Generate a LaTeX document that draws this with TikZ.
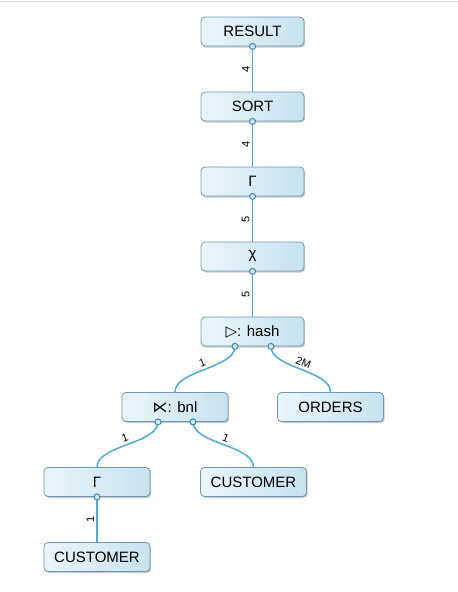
\documentclass[tikz,border=0pt]{standalone}
\usepackage{fontspec}
\setmainfont{Liberation Sans}
\newfontfamily\symf{DejaVu Sans}
\usetikzlibrary{shadows,calc}
\definecolor{edgeblue}{HTML}{4FA9DC}
\definecolor{boxborder}{HTML}{6E98B2}
\definecolor{boxleft}{HTML}{EAF5FB}
\definecolor{boxright}{HTML}{C8E2EE}
\definecolor{portfill}{HTML}{D2E8F5}
\definecolor{portdraw}{HTML}{3F86BD}
\begin{document}
\begin{tikzpicture}[x=1pt,y=1pt,
  opbox/.style={rectangle, rounded corners=4pt, draw=boxborder, line width=0.8pt,
    left color=boxleft, right color=boxright, minimum width=106pt, minimum height=29pt,
    inner sep=0pt, font=\fontsize{15}{18}\selectfont,
    drop shadow={shadow xshift=1.2pt, shadow yshift=-1.5pt, opacity=0.3, fill=black!70}},
  topbox/.style={opbox, minimum width=103pt},
  edge/.style={draw=edgeblue, line width=1.5pt},
  port/.style={circle, draw=portdraw, fill=portfill, line width=1pt, minimum size=6pt, inner sep=0pt},
  elabel/.style={font=\fontsize{11}{13}\selectfont, inner sep=1.5pt},
  vlabel/.style={elabel, midway, rotate=90, anchor=south, inner sep=2.2pt},
  clabel/.style={elabel, midway, sloped, above, inner sep=2.5pt}]
\useasboundingbox (0,0) rectangle (458,-592);
\draw[color=gray!30, line width=1pt] (0,-1.5) -- (458,-1.5);

\node[topbox] (result) at (252.5,-31.5) {RESULT};
\node[topbox] (sort) at (252.5,-106.5) {SORT};
\node[topbox] (gammaA) at (252.5,-181.5) {Γ};
\node[topbox] (chi) at (252.5,-256.5) {χ};
\node[topbox] (hash) at (252.5,-331.5) {{\symf ▷}: hash};
\node[opbox] (bnl) at (175,-407) {{\symf ⋉}: bnl};
\node[opbox] (orders) at (330.5,-407) {ORDERS};
\node[opbox] (gammaB) at (97,-482) {Γ};
\node[opbox] (custA) at (253.5,-482) {CUSTOMER};
\node[opbox] (custB) at (97,-557) {CUSTOMER};

\coordinate (pR) at (result.south);
\coordinate (pS) at (sort.south);
\coordinate (pG) at (gammaA.south);
\coordinate (pC) at (chi.south);
\coordinate (pHl) at ($(hash.south)+(-17.5,0)$);
\coordinate (pHr) at ($(hash.south)+(18.5,0)$);
\coordinate (pBl) at ($(bnl.south)+(-17,0)$);
\coordinate (pBr) at ($(bnl.south)+(18,0)$);
\coordinate (pGB) at (gammaB.south);

\draw[edge] (pR) -- (sort.north) node[vlabel] {4};
\draw[edge] (pS) -- (gammaA.north) node[vlabel] {4};
\draw[edge] (pG) -- (chi.north) node[vlabel] {5};
\draw[edge] (pC) -- (hash.north) node[vlabel] {5};
\draw[edge] (pHl) .. controls +(0,-22) and +(0,22) .. (bnl.north) node[clabel] {1};
\draw[edge] (pHr) .. controls +(0,-22) and +(0,22) .. (orders.north) node[clabel] {2M};
\draw[edge] (pBl) .. controls +(0,-22) and +(0,22) .. (gammaB.north) node[clabel] {1};
\draw[edge] (pBr) .. controls +(0,-22) and +(0,22) .. (custA.north) node[clabel] {1};
\draw[edge] (pGB) -- (custB.north) node[vlabel] {1};

\foreach \p in {pR,pS,pG,pC,pHl,pHr,pBl,pBr,pGB}
  \node[port] at (\p) {};
\end{tikzpicture}
\end{document}
